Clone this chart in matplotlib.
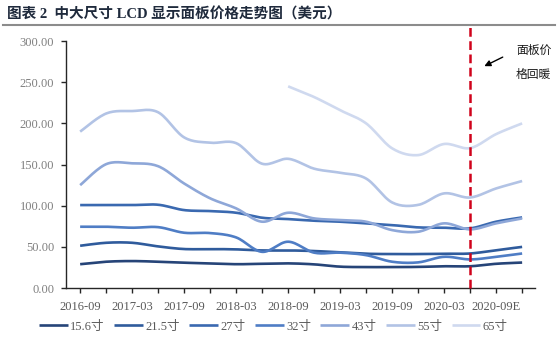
import numpy as np
import matplotlib
matplotlib.use('Agg')
import matplotlib.pyplot as plt
from matplotlib.lines import Line2D

# quarterly points, 2016-09 .. 2020-12E
quarters = ['2016-09', '2016-12', '2017-03', '2017-06', '2017-09', '2017-12',
            '2018-03', '2018-06', '2018-09', '2018-12', '2019-03', '2019-06',
            '2019-09', '2019-12', '2020-03', '2020-06', '2020-09E', '2020-12E']

p156 = [29, 32, 32.8, 32, 30.8, 30, 29, 29.5, 30, 28.8, 26, 25.5, 25.5, 25.7, 26.5, 26.5, 29.5, 31]
p215 = [51.4, 55, 55, 50.6, 47.4, 47.4, 47, 45.7, 45.7, 45, 43.3, 41.7, 41.3, 41.3, 41.7, 42, 46, 50]
p27 = [100.8, 100.8, 100.8, 101.2, 94.7, 93.5, 91.5, 85.4, 83.8, 81.8, 80.6, 78.6, 76.5, 73.7, 73.3, 72.5, 80.6, 85.8]
p32 = [74.5, 74.5, 73.3, 74, 67.2, 66.8, 61.5, 44, 56.3, 43, 43, 40, 32, 31.2, 38, 34.8, 38, 42]
p43 = [125, 150.5, 151.5, 148, 127, 109, 96.8, 80.6, 91.5, 84.6, 82.6, 80.6, 70.4, 68.4, 78.6, 71.3, 78.6, 84.6]
p55 = [190, 212, 215, 213.5, 183, 176.5, 176, 151, 157, 145, 140, 133, 104, 101, 115, 110, 121, 130]
p65 = [None] * 8 + [245, 232, 216, 200, 169.7, 161.5, 175, 170, 187, 200]

series = [('15.6寸', p156), ('21.5寸', p215), ('27寸', p27), ('32寸', p32),
          ('43寸', p43), ('55寸', p55), ('65寸', p65)]
colors = ['#264478', '#2f5b9c', '#3a69b0', '#4f7dc5', '#8ea7d8', '#b2c3e5', '#cfd9ef']

tick_labels = [q if i % 2 == 0 else '' for i, q in enumerate(quarters)]
marker_idx = 15  # 2020-06


def smooth(x, y, n=16):
    # excel-like smoothed line (catmull-rom bezier)
    pts = np.column_stack([x, y]).astype(float)
    out = [pts[0]]
    for i in range(len(pts) - 1):
        p0 = pts[i - 1] if i > 0 else pts[i]
        p1, p2 = pts[i], pts[i + 1]
        p3 = pts[i + 2] if i + 2 < len(pts) else pts[i + 1]
        c1 = p1 + (p2 - p0) / 6
        c2 = p2 - (p3 - p1) / 6
        t = np.linspace(0, 1, n)[1:, None]
        seg = (1 - t) ** 3 * p1 + 3 * (1 - t) ** 2 * t * c1 + 3 * (1 - t) * t ** 2 * c2 + t ** 3 * p2
        out.extend(seg)
    out = np.array(out)
    return out[:, 0], out[:, 1]


serif = 'Liberation Serif'
cjk = ['Liberation Serif', 'Noto Sans CJK SC']

fig = plt.figure(figsize=(5.58, 3.45), dpi=100)
ax = fig.add_axes([0.118, 0.165, 0.841, 0.716])

for (name, vals), c in zip(series, colors):
    xs = [i for i, v in enumerate(vals) if v is not None]
    ys = [v for v in vals if v is not None]
    sx, sy = smooth(xs, ys)
    ax.plot(sx, sy, color=c, lw=1.9, label=name, solid_capstyle='butt')

ax.plot([marker_idx, marker_idx], [0, 318], color='#d0021b', lw=1.8,
        ls=(0, (3.5, 1.8)), clip_on=False, zorder=5)

ax.set_xlim(-0.55, 17.5)
ax.set_ylim(0, 300)
ax.set_yticks(np.arange(0, 301, 50))
ax.set_yticklabels(['%.2f' % v for v in np.arange(0, 301, 50)],
                   fontfamily=serif, fontsize=9, color='#808080')
ax.set_xticks(range(len(quarters)))
ax.set_xticklabels(tick_labels, fontfamily=serif, fontsize=9, color='#595959')

for s in ['top', 'right']:
    ax.spines[s].set_visible(False)
for s in ['left', 'bottom']:
    ax.spines[s].set_color('#262626')
    ax.spines[s].set_linewidth(1.0)
ax.tick_params(axis='both', direction='out', length=3.5, width=1.0, color='#262626')
ax.tick_params(axis='x', pad=6)
ax.tick_params(axis='y', pad=5)

ax.annotate('', xy=(15.45, 268), xytext=(16.35, 282),
            arrowprops=dict(arrowstyle='-|>', color='black', lw=1.0,
                            mutation_scale=9), annotation_clip=False)
fig.text(0.925, 0.853, '面板价', family='Noto Sans CJK SC', fontsize=8.5,
         color='#1a1a1a', ha='left', va='center')
fig.text(0.925, 0.785, '格回暖', family='Noto Sans CJK SC', fontsize=8.5,
         color='#1a1a1a', ha='left', va='center')

fig.text(0.012, 0.958, '图表 2  中大尺寸 LCD 显示面板价格走势图（美元）',
         family=['Liberation Serif', 'Noto Sans CJK SC'], fontsize=10.5,
         fontweight='bold', color='#1f2a3c', ha='left', va='center')
fig.add_artist(Line2D([0.005, 0.995], [0.928, 0.928], color='#8c8c8c', lw=1.5,
                      transform=fig.transFigure))

leg = ax.legend(loc='center', ncol=7, frameon=False, handlelength=2.3,
                handletextpad=0.2, columnspacing=0.75,
                prop={'family': cjk, 'size': 9})
for t in leg.get_texts():
    t.set_color('#595959')
leg.set_bbox_to_anchor((0.49, 0.053), transform=fig.transFigure)

fig.savefig('out.png', dpi=100)
